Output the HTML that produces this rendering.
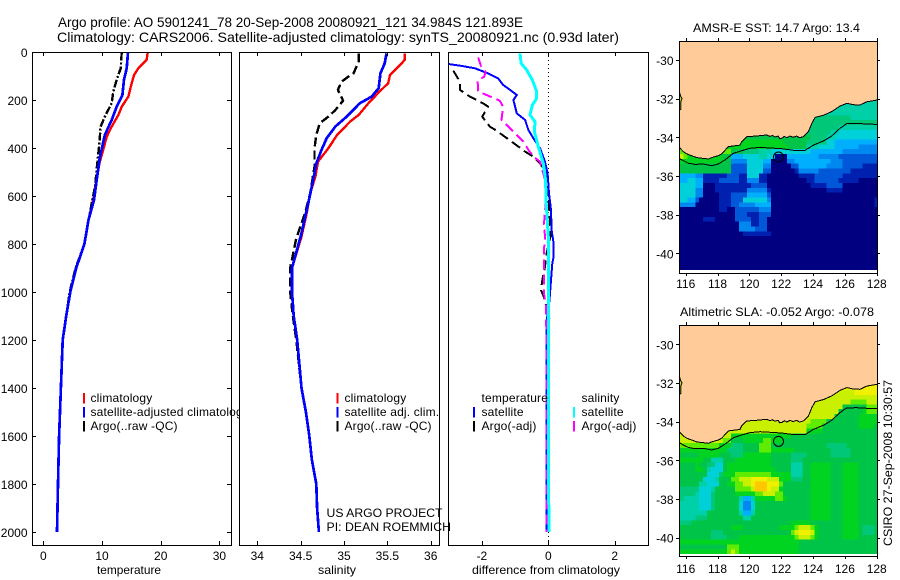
<!DOCTYPE html>
<html>
<head>
<meta charset="utf-8">
<title>Argo profile</title>
<style>
html,body{margin:0;padding:0;background:#fff;}
svg{display:block;}
text{font-family:"Liberation Sans",sans-serif;font-size:12px;fill:#000;}
</style>
</head>
<body>
<svg id="chart" width="900" height="580" viewBox="0 0 900 580" xmlns="http://www.w3.org/2000/svg">
<rect width="900" height="580" fill="#fff"/>
<text x="58" y="27" style="font-size:14px" textLength="465" lengthAdjust="spacingAndGlyphs">Argo profile: AO 5901241_78 20-Sep-2008 20080921_121 34.984S 121.893E</text>
<text x="57" y="42" style="font-size:14px" textLength="562" lengthAdjust="spacingAndGlyphs">Climatology: CARS2006. Satellite-adjusted climatology: synTS_20080921.nc (0.93d later)</text>
<g id="panels"></g>
<g id="overlay">
<text x="326.5" y="517" textLength="116" lengthAdjust="spacingAndGlyphs">US ARGO PROJECT</text>
<text x="326.5" y="531" textLength="124.5" lengthAdjust="spacingAndGlyphs">PI: DEAN ROEMMICH</text>
<text transform="translate(892 546) rotate(-90)" textLength="166" lengthAdjust="spacingAndGlyphs">CSIRO 27-Sep-2008 10:30:57</text>
</g>
</svg>
<script>
// ---------- profile data ----------
const depthTicks = [0,200,400,600,800,1000,1200,1400,1600,1800,2000];
const tempTicks = [0,10,20,30];
const salTicks = [34,34.5,35,35.5,36];
const salTickLabels = ['34','34.5','35','35.5','36'];
const diffTicks = [-2,0,2];
const lonTicks = [116,118,120,122,124,126,128];
const latTicks = [-30,-32,-34,-36,-38,-40];

const tempClimDepth = [2,33,68,96,144,186,228,262,311,353,408,464,600,700,800,900,1000,1100,1200,1400,1600,1800,2000];
const tempClimValue = [17.78,17.6,16.2,15.45,14.9,14.5,13.35,12.8,11.65,10.8,10.2,9.55,8.6,7.7,7.0,5.6,4.6,3.9,3.3,3.0,2.7,2.5,2.33];
const tempSatDepth = [2,68,116,179,228,283,345,436,533,617,700,800,900,1000,1100,1200,1400,1600,1800,2000];
const tempSatValue = [14.43,14.2,13.75,13.47,12.5,11.65,10.5,9.66,9.1,8.64,7.7,7.0,5.6,4.6,3.9,3.3,3.0,2.7,2.5,2.33];
const tempArgoDepth = [2,68,116,165,213,269,311,380,464,561,700,800,900,1000,1100,1200,1400,1600,1800,2000];
const tempArgoValue = [13.35,13.18,12.5,11.93,11.65,10.5,9.77,9.55,9.2,8.8,7.7,7.0,5.5,4.5,3.9,3.3,3.0,2.7,2.5,2.33];

const salClimDepth = [6,33,61,96,130,165,214,262,290,346,401,457,519,589,672,769,900,1000,1100,1200,1400,1500,1600,1700,1800,1900,2000];
const salClimValue = [35.70,35.70,35.63,35.53,35.51,35.41,35.28,35.17,35.07,34.92,34.82,34.70,34.67,34.61,34.57,34.51,34.40,34.40,34.42,34.46,34.51,34.56,34.60,34.63,34.68,34.69,34.71];
const salSatDepth = [6,47,89,151,186,214,248,276,311,359,408,464,505,575,658,755,900,1000,1100,1200,1400,1500,1600,1700,1800,1900,2000];
const salSatValue = [35.49,35.47,35.42,35.40,35.32,35.18,35.09,35.01,34.90,34.80,34.74,34.68,34.66,34.62,34.57,34.51,34.40,34.40,34.42,34.46,34.51,34.56,34.60,34.63,34.68,34.69,34.71];
const salArgoDepth = [6,40,89,105,124,158,203,242,269,297,346,401,478,589,672,776,900,1000,1100,1200,1400,1500,1600,1700,1800];
const salArgoValue = [35.17,35.17,35.11,35.04,34.97,34.93,34.99,34.90,34.82,34.72,34.68,34.66,34.66,34.61,34.55,34.45,34.38,34.38,34.41,34.45,34.51,34.56,34.60,34.63,34.68];

const diffTempSatDepth = [50,58,68,89,110,137,158,179,200,256,283,325,360,401,457,505,589,658,742,797,853,881,950,1006,1041,1131,2000];
const diffTempSatValue = [-3.01,-2.61,-2.21,-1.81,-1.51,-1.36,-1.15,-0.95,-1.05,-0.95,-0.70,-0.60,-0.45,-0.25,-0.10,-0.02,0.02,0.08,0.10,0.16,0.16,0.12,0.08,0.05,0.03,-0.06,-0.06];
const diffSalSatDepth = [6,47,75,117,165,193,221,262,290,332,394,464,533,617,769,2000];
const diffSalSatValue = [-0.85,-0.82,-0.65,-0.48,-0.35,-0.35,-0.48,-0.55,-0.40,-0.42,-0.30,-0.15,-0.08,-0.07,0.0,0.015];
const diffTempArgoDepth = [78,124,158,186,214,228,269,311,328,353,394,415,436,464,505,644,728,770,839,895,950,992,1019,1110];
const diffTempArgoValue = [-2.86,-2.66,-2.66,-2.36,-1.96,-1.81,-1.99,-1.76,-1.56,-1.31,-0.90,-0.70,-0.45,-0.25,-0.05,0.02,0.06,0.06,-0.05,-0.10,-0.18,-0.22,-0.14,0.06];
const diffSalArgoDepth = [22,58,82,103,119,165,179,203,228,283,318,373,408,436,457,533,617,714,769,825,895,950,1006,1061,1158,2000];
const diffSalArgoValue = [-2.11,-2.03,-1.89,-1.93,-2.13,-2.11,-1.86,-1.46,-1.36,-1.41,-1.15,-0.75,-0.60,-0.45,-0.25,-0.10,-0.07,-0.13,-0.10,-0.13,-0.13,-0.13,-0.13,-0.07,-0.06,-0.06];

// ---------- map data ----------
const heatPalette = ['#000080','#0020b0','#0058d8','#0088f0','#00b0ff','#00d0d8','#00d0a8','#00c878','#00c448','#00d420','#60ec00','#c8f000','#f0f000','#ffc800'];
const coastLon = [115.6,115.85,116.06,116.38,116.69,117.11,117.42,117.6,117.84,118.05,118.26,118.68,118.99,119.41,119.52,119.83,120.46,121.09,121.3,121.45,121.6,121.82,121.9,122.03,122.2,122.35,122.55,122.75,122.97,123.15,123.39,123.71,123.92,124.13,124.65,125.17,125.7,126.12,126.53,126.95,127.37,128.04];
const coastLat = [-34.52,-34.74,-34.86,-34.95,-35.05,-35.09,-35.12,-35.06,-35.0,-34.95,-34.86,-34.48,-34.45,-34.4,-34.22,-33.97,-33.93,-33.88,-33.95,-33.9,-33.98,-33.93,-34.06,-34.05,-33.95,-34.02,-33.93,-34.0,-33.93,-34.02,-33.97,-33.71,-33.28,-32.97,-32.86,-32.67,-32.38,-32.24,-32.31,-32.33,-32.16,-32.07];
const shelfLon = [115.6,115.85,116.17,116.59,117.11,117.63,118.05,118.47,118.99,119.52,120.04,120.67,121.3,122.03,122.76,123.5,124.02,124.65,125.17,125.7,126.12,126.74,127.37,128.04];
const shelfLat = [-35.09,-35.21,-35.34,-35.4,-35.38,-35.47,-35.38,-35.17,-34.83,-34.69,-34.57,-34.52,-34.55,-34.59,-34.67,-34.67,-34.4,-34.19,-33.93,-33.53,-33.29,-33.28,-33.31,-33.33];
const islandLon = [115.6,115.69,115.77,115.69,115.69,115.6];
const islandLat = [-31.64,-31.9,-31.98,-32.16,-32.55,-32.59];
const markerLon = [121.83];
const markerLat = [-35.02];

const sstRows = [
[6,6,6,6,6,6,6,6,6,6,6,6,6,6,6,6,6,6,6,6,6,6,6,6,6,6,6,6,6,6,6,6,6,6,6,6,6,6,6,6,6,6,6,6,6,6,6,6,6,6],
[6,6,6,6,6,6,6,6,6,6,6,6,6,6,6,6,6,6,6,6,6,6,6,6,6,6,6,6,6,6,6,6,6,6,6,6,6,6,6,6,6,6,6,6,6,6,6,6,6,6],
[6,6,6,6,6,6,6,6,6,6,6,6,6,6,6,6,6,6,6,6,6,6,6,6,6,6,6,6,6,6,6,6,6,6,6,6,6,6,6,6,6,6,6,6,6,6,6,6,6,6],
[6,6,6,6,6,6,6,6,6,6,6,6,6,6,6,6,6,6,6,6,6,6,6,6,6,6,6,6,6,6,6,6,6,6,6,6,6,6,6,6,6,6,6,6,6,6,6,6,6,6],
[7,7,7,7,7,7,7,7,7,7,7,7,7,7,7,7,7,7,7,7,7,7,7,7,7,7,7,7,7,7,7,7,7,7,7,7,7,7,7,7,7,7,7,6,6,6,6,6,6,6],
[7,7,7,7,7,7,7,7,7,7,7,7,7,7,7,7,7,7,7,7,7,7,7,7,7,7,7,7,7,7,7,7,7,7,7,7,7,7,7,7,7,7,7,7,7,7,7,7,7,7],
[7,7,7,7,7,7,7,7,7,7,7,7,7,7,7,7,7,7,7,7,7,7,7,7,7,7,7,7,7,7,7,7,7,7,7,7,7,7,7,7,6,6,6,6,6,6,6,6,6,6],
[7,7,7,7,7,7,7,7,7,7,7,7,7,7,7,7,7,7,7,7,7,7,7,7,7,7,7,7,7,7,7,7,7,7,7,7,7,7,6,6,5,5,5,5,5,5,5,5,5,5],
[8,8,8,8,8,8,8,8,8,8,8,8,8,8,8,8,8,8,8,8,8,8,8,8,8,8,8,8,8,8,8,8,8,7,7,7,7,6,6,5,5,5,5,5,5,5,5,5,5,5],
[9,9,9,9,9,9,9,9,9,9,9,9,9,9,9,9,9,9,9,9,9,9,9,9,9,9,8,8,8,8,8,8,7,7,7,7,7,5,5,4,4,4,4,4,4,4,4,4,4,4],
[9,9,9,9,9,9,9,9,9,9,9,9,9,9,9,9,9,9,9,9,9,9,9,9,9,9,9,8,8,8,8,8,6,6,6,5,5,5,5,4,4,4,4,4,4,3,3,3,3,3],
[10,10,10,10,10,10,10,10,10,10,10,10,10,8,8,8,7,7,7,7,6,6,6,5,5,5,5,5,5,5,5,5,5,4,4,4,4,4,4,4,4,3,3,3,3,3,3,3,3,3],
[11,10,9,9,9,9,9,9,9,9,9,8,8,4,4,4,5,5,5,5,6,6,5,5,0,0,0,4,4,4,4,4,4,4,4,3,3,3,3,3,2,2,2,2,2,2,2,2,2,2],
[9,9,9,9,9,9,9,9,9,9,9,8,8,3,3,3,3,5,5,5,5,4,4,0,0,0,0,3,3,4,4,4,4,4,4,4,4,4,3,3,3,2,2,2,2,2,2,2,2,2],
[8,8,8,8,8,8,8,8,8,8,8,8,8,2,2,2,2,5,5,5,5,3,3,0,0,0,0,0,2,2,4,4,4,4,4,4,4,3,3,3,3,2,2,2,2,2,1,1,1,1],
[8,8,8,8,8,8,8,8,8,8,8,8,8,2,2,2,2,5,5,5,5,2,2,0,0,0,0,0,0,1,3,3,3,3,3,2,2,2,2,2,2,2,2,1,1,1,1,1,1,1],
[4,4,4,4,3,3,1,1,1,1,1,1,2,2,2,1,1,5,5,5,1,1,0,0,0,0,0,0,0,0,1,1,1,1,2,2,2,2,2,2,2,1,1,1,1,1,1,1,1,1],
[4,4,5,5,4,4,1,1,1,1,2,2,2,2,2,1,1,3,3,3,1,1,0,0,0,0,0,0,0,0,0,0,1,1,2,2,2,2,2,2,1,1,1,1,1,0,0,0,0,0],
[5,5,5,5,4,4,0,0,0,1,1,1,1,1,1,1,1,1,2,2,2,2,0,0,0,0,0,0,0,0,0,0,0,1,1,1,1,2,2,2,2,0,0,0,0,0,0,0,0,0],
[5,5,5,5,3,3,0,0,0,1,1,1,1,1,1,1,1,3,3,3,3,3,1,0,0,0,0,0,0,0,0,0,0,0,0,0,0,1,1,1,1,0,0,0,0,0,0,0,0,0],
[5,5,5,5,3,3,0,0,0,0,1,1,1,2,2,2,2,4,4,4,4,4,2,0,0,0,0,0,0,0,0,0,0,0,0,0,0,0,0,0,0,0,0,0,0,0,0,0,0,0],
[5,5,4,4,2,0,0,0,0,0,1,1,1,2,2,2,5,5,5,5,5,5,3,0,0,0,0,0,0,0,0,0,0,0,0,0,0,0,0,0,0,0,0,0,0,0,0,0,0,1],
[3,3,3,3,0,0,0,0,0,0,1,1,1,2,2,3,3,3,3,4,4,4,4,0,0,0,0,0,0,0,0,0,0,0,0,0,0,0,0,0,0,0,0,0,0,0,0,0,0,1],
[0,0,0,0,0,0,0,0,0,0,1,1,0,0,2,2,2,2,2,2,3,3,3,0,0,0,0,0,0,0,0,0,0,0,0,0,0,0,0,0,0,0,0,0,0,0,0,0,0,0],
[0,0,0,0,0,0,0,0,0,0,0,0,0,0,2,2,2,1,1,1,2,2,2,0,0,0,0,0,0,0,0,0,0,0,0,0,0,0,0,0,0,0,0,0,0,0,0,0,0,0],
[0,0,0,0,0,0,1,1,1,0,0,0,0,0,2,2,2,2,1,1,2,2,0,0,0,0,0,0,0,0,0,0,0,0,0,0,0,0,0,0,0,0,0,0,0,0,0,0,0,0],
[0,0,0,0,0,0,0,0,0,0,0,0,0,0,0,3,3,3,1,1,2,2,0,0,0,0,0,0,0,0,0,0,0,0,0,0,0,0,0,0,0,0,0,0,0,0,0,0,0,0],
[0,0,0,0,0,0,0,0,0,0,0,0,0,0,0,3,3,3,3,2,2,2,0,0,0,0,0,0,0,0,0,0,0,0,0,0,0,0,0,0,0,0,0,0,0,0,0,0,0,0],
[0,0,0,0,0,0,0,0,0,0,0,0,0,0,0,0,1,1,1,1,1,1,1,0,0,0,0,0,0,0,0,0,0,0,0,0,0,0,0,0,0,0,0,0,0,0,0,0,0,0],
[0,0,0,0,0,0,0,0,0,0,0,0,0,0,0,0,0,0,0,0,0,0,0,0,0,0,0,0,0,0,0,0,0,0,0,0,0,0,0,0,0,0,0,0,0,0,0,0,0,0],
[0,0,0,0,0,0,0,0,0,0,0,0,0,0,0,0,0,0,0,0,0,0,0,0,0,0,0,0,0,0,0,0,0,0,0,0,0,0,0,0,0,0,0,0,0,0,0,0,0,0],
[0,0,0,0,0,0,0,0,0,0,0,0,0,0,0,0,0,0,0,0,0,0,0,0,0,0,0,0,0,0,0,0,0,0,0,0,0,0,0,0,0,0,0,0,0,0,0,0,0,0],
[0,0,0,0,0,0,0,0,0,0,0,0,0,0,0,0,0,0,0,0,0,0,0,0,0,0,0,0,0,0,0,0,0,0,0,0,0,0,0,0,0,0,0,0,0,0,0,0,0,0],
[0,0,0,0,0,0,0,0,0,0,0,0,0,0,0,0,0,0,0,0,0,0,0,0,0,0,0,0,0,0,0,0,0,0,0,0,0,0,0,0,0,0,0,0,0,0,0,0,0,0],
[0,0,0,0,0,0,0,0,0,0,0,0,0,0,0,0,0,0,0,0,0,0,0,0,0,0,0,0,0,0,0,0,0,0,0,0,0,0,0,0,0,0,0,0,0,0,0,0,0,0],
[0,0,0,0,0,0,0,0,0,0,0,0,0,0,0,0,0,0,0,0,0,0,0,0,0,0,0,0,0,0,0,0,0,0,0,0,0,0,0,0,0,0,0,0,0,0,0,0,0,0]
];

const slaRows = [
[12,12,12,12,12,12,12,12,12,12,12,12,12,12,12,12,12,12,12,12,12,12,12,12,12,12,12,12,12,12,12,12,12,12,12,12,12,12,12,12,12,12,12,12,12,12,12,12,12,12],
[11,11,11,11,11,11,11,11,11,11,11,11,11,11,11,11,11,11,11,11,11,11,11,11,11,11,11,11,11,11,11,11,11,11,11,11,11,11,11,11,12,12,12,12,12,12,12,12,12,12],
[11,11,11,11,11,11,11,11,11,11,11,11,11,11,11,11,11,11,11,11,11,11,11,11,11,11,11,11,11,11,11,11,11,11,11,11,11,11,11,11,11,11,11,11,12,12,12,12,12,12],
[11,11,11,11,11,11,11,11,11,11,11,11,11,11,11,11,11,11,11,11,11,11,11,11,11,11,11,11,11,11,11,11,11,11,11,11,11,11,11,11,11,11,11,11,11,11,11,11,11,11],
[11,11,11,11,11,11,11,11,11,11,11,11,11,11,11,11,11,11,11,11,11,11,11,11,11,11,11,11,11,11,11,11,11,11,11,11,11,11,11,11,11,11,11,10,10,10,10,11,11,11],
[11,11,11,11,11,11,11,11,11,11,11,11,11,11,11,11,11,11,11,11,11,11,11,11,11,11,11,11,11,11,11,11,11,11,11,11,11,11,11,11,11,8,8,8,8,8,8,10,10,10],
[11,11,11,11,11,11,11,11,11,11,11,11,11,11,11,11,11,11,11,11,11,11,11,11,11,11,11,11,11,11,11,11,11,11,11,11,11,11,11,11,8,8,8,8,8,8,9,10,10,10],
[11,11,11,11,11,11,11,11,11,11,11,11,11,11,11,11,11,11,11,11,11,11,11,11,11,11,11,11,11,11,11,11,11,11,11,11,11,11,11,8,8,8,8,8,8,9,9,9,9,9],
[11,11,11,11,11,11,11,11,11,11,11,11,11,11,11,11,11,11,11,11,11,11,11,11,11,11,11,11,11,11,11,11,11,10,10,10,10,8,8,8,8,8,8,8,8,9,9,9,9,9],
[11,11,11,11,11,11,11,11,11,11,11,11,11,11,11,11,11,11,11,11,11,11,11,11,11,11,11,11,11,11,11,11,10,10,10,10,8,8,8,8,8,8,8,8,8,9,9,9,9,8],
[11,11,11,11,11,11,11,11,11,11,11,11,11,11,11,11,11,11,11,11,11,11,11,11,11,11,11,11,11,11,11,11,9,9,9,9,8,8,8,8,8,8,8,8,8,8,8,8,8,8],
[11,11,11,11,11,11,11,11,11,11,11,11,11,9,9,9,9,9,9,9,9,9,9,9,9,9,9,9,8,8,8,8,8,8,8,8,8,8,8,8,8,8,8,8,8,8,8,8,8,8],
[11,11,11,11,11,11,11,11,11,11,11,10,10,8,8,8,9,9,9,9,9,10,10,9,9,9,8,8,8,8,8,8,8,8,8,8,8,8,8,8,8,8,8,8,8,8,8,8,8,8],
[10,10,10,10,10,10,10,10,10,10,9,9,9,7,7,7,8,8,8,8,10,10,10,8,8,8,8,8,8,8,8,8,8,8,8,8,8,7,7,7,7,7,8,8,8,8,8,8,8,8],
[9,9,9,9,9,9,9,9,9,9,9,9,7,7,7,7,8,8,8,8,10,10,10,9,9,9,9,9,9,8,8,8,8,8,8,8,8,8,7,7,7,7,7,8,8,8,8,8,8,8],
[8,8,8,8,8,9,9,9,9,9,8,8,8,7,7,7,9,9,9,9,9,9,9,8,8,8,8,8,7,7,7,7,8,8,8,8,8,8,7,7,7,7,7,8,8,8,8,8,8,8],
[9,9,9,9,9,9,8,8,6,6,6,8,8,8,9,9,9,9,9,9,9,9,9,8,8,8,8,8,7,7,7,8,8,8,8,8,8,8,8,8,8,8,8,8,8,8,8,8,8,8],
[8,8,8,8,9,8,8,7,7,5,5,8,9,9,9,9,9,9,9,9,9,9,9,8,8,8,8,8,6,6,6,8,8,9,9,9,9,9,8,8,8,9,9,9,9,8,8,8,8,8],
[8,8,8,8,9,9,8,6,5,5,5,8,9,9,9,9,9,9,9,9,9,9,9,9,8,8,8,8,6,6,6,8,8,9,9,9,9,9,8,8,8,9,9,9,9,8,8,8,8,8],
[8,8,8,8,8,8,8,5,5,5,7,9,9,9,10,10,10,10,10,10,10,10,10,9,9,9,9,9,6,6,6,8,8,9,9,9,9,9,8,8,8,9,9,9,9,8,8,8,8,8],
[8,8,8,8,8,8,5,5,5,6,8,8,8,10,10,11,11,11,12,12,12,12,11,11,11,9,9,9,7,7,7,8,8,9,9,9,9,9,8,8,8,9,9,9,9,8,8,8,8,8],
[8,8,8,8,8,6,6,5,5,5,8,8,9,9,10,10,11,11,12,13,13,13,12,12,12,10,8,8,8,8,8,8,8,9,9,9,9,9,8,8,8,9,9,9,9,8,8,8,8,8],
[7,7,7,7,7,5,5,5,6,8,8,8,8,8,10,10,10,10,11,13,13,13,12,11,11,9,8,8,8,8,8,8,8,9,9,9,9,9,8,8,8,9,9,9,9,8,8,8,8,8],
[7,7,7,7,6,5,5,5,7,8,8,8,8,8,9,9,9,9,9,10,10,11,11,11,10,10,8,8,8,8,8,8,8,9,9,9,9,9,8,8,8,9,9,9,9,8,8,8,8,8],
[7,6,6,6,6,5,5,5,7,8,8,8,8,8,8,6,4,4,6,9,9,9,9,9,10,10,9,8,8,8,8,8,8,9,9,9,9,9,8,8,8,9,9,9,9,8,8,8,8,8],
[6,6,6,6,6,5,5,5,7,8,8,8,8,8,8,5,3,3,5,8,8,8,8,8,8,8,8,8,8,8,8,8,8,9,9,9,9,9,8,8,8,9,9,9,9,8,8,8,8,8],
[6,6,6,6,6,5,5,5,7,8,8,8,8,8,8,5,3,3,5,8,8,8,8,8,8,8,8,8,8,8,8,8,8,9,9,9,9,9,8,8,8,9,9,9,9,8,8,8,8,8],
[6,6,6,6,6,6,6,8,8,8,8,8,8,8,8,6,4,4,6,8,8,8,8,8,8,8,8,8,8,8,8,8,8,9,9,9,9,9,8,8,8,9,9,9,9,8,8,8,8,8],
[6,6,6,6,7,7,7,8,8,8,8,8,8,8,8,8,6,6,8,8,8,8,8,8,8,8,8,8,8,8,8,8,8,9,9,9,9,9,8,8,8,9,9,9,9,8,8,8,8,8],
[7,7,7,8,8,8,8,8,8,8,8,8,8,8,8,8,8,8,8,8,8,8,8,8,8,8,8,8,9,9,9,9,9,8,8,8,8,8,8,8,8,9,9,9,9,8,8,8,8,8],
[8,8,8,8,8,8,8,8,8,8,8,8,8,9,9,9,8,8,8,8,8,8,8,8,8,9,9,9,9,10,11,11,11,10,9,8,8,8,8,8,8,9,9,9,9,8,7,7,7,8],
[8,8,8,8,8,8,8,8,7,7,7,8,8,8,8,8,8,8,8,8,8,8,8,8,8,8,8,8,10,11,12,12,12,11,9,8,8,8,8,8,8,9,9,9,9,8,7,7,7,8],
[8,8,8,8,8,8,8,8,7,7,7,7,8,8,8,9,9,9,9,9,9,9,9,9,9,9,9,9,9,10,11,11,11,10,9,8,8,8,8,8,8,9,9,9,9,8,8,8,8,8],
[9,9,9,9,9,9,9,9,9,9,9,9,9,9,9,9,9,9,9,9,9,9,9,9,9,9,9,9,9,9,8,8,8,8,8,8,8,8,8,8,8,8,8,8,8,8,8,8,8,8],
[8,8,8,8,8,8,8,8,8,8,8,8,10,10,10,9,9,9,9,9,9,9,9,9,9,9,9,9,9,9,8,8,8,8,8,8,8,8,8,8,8,8,8,8,8,8,8,8,8,8],
[9,9,9,9,9,9,9,9,9,9,9,9,10,11,10,9,9,9,9,9,9,9,9,9,9,9,9,9,9,9,8,8,8,8,8,8,8,8,8,8,8,8,8,8,8,8,8,8,8,8]
];

// ---------- axis functions ----------
const yDepth = d => 52 + 0.24 * d;
const xTemp = v => 43.3 + 5.87 * v;
const xSal = v => 257.3 + 86.7 * (v - 34);
const xDiff = v => 548.3 + 33.2 * v;
const NS = 'http://www.w3.org/2000/svg';
const panels = document.getElementById('panels');

function mk(tag, parent, attrs, txt) {
  const el = document.createElementNS(NS, tag);
  for (const k in attrs) el.setAttribute(k, attrs[k]);
  if (txt !== undefined) el.textContent = txt;
  parent.appendChild(el);
  return el;
}
function seg(parent, x1, y1, x2, y2, color, w) {
  const el = mk('line', parent, {x1, y1, x2, y2, stroke: color || '#000', 'stroke-width': w || 1, 'shape-rendering': 'crispEdges'});
  return el;
}

function frame(name, L, T, R, B) {
  const g = mk('g', panels, {});
  
  
  const bg = mk('rect', g, {x: L, y: T, width: R - L, height: B - T, fill: '#fff'});
  
  
  return g;
}
function box(g, name, L, T, R, B) {
  const r = mk('rect', g, {x: L + .5, y: T + .5, width: R - L, height: B - T, fill: 'none', stroke: '#000', 'stroke-width': 1, 'shape-rendering': 'crispEdges'});
  
  
}
function profile(g, name, fx, values, depths, color, w, dash) {
  const pts = values.map((v, i) => fx(v).toFixed(1) + ',' + yDepth(depths[i]).toFixed(1)).join(' ');
  const a = {points: pts, fill: 'none', stroke: color, 'stroke-width': w, 'stroke-linejoin': 'round', 'shape-rendering': 'crispEdges'};
  if (dash) a['stroke-dasharray'] = dash;
  const p = mk('polyline', g, a);
  
  
}
function xAxis(g, name, ticks, labels, fx, T, B, title, titleX, titleLen) {
  ticks.forEach((v, i) => {
    const x = Math.round(fx(v)) + .5;
    const t1 = seg(g, x, B, x, B - 4);
    
    
    const t2 = seg(g, x, T, x, T + 4);
    
    
    const lb = mk('text', g, {x: fx(v), y: 560, 'text-anchor': 'middle'}, labels[i]);
    
    
  });
  const tt = mk('text', g, {x: titleX, y: 574, 'text-anchor': 'middle', textLength: titleLen, lengthAdjust: 'spacingAndGlyphs'}, title);
  
  
}
function legend(g, name, sx, tx, entries) {
  entries.forEach(e => {
    if (e.c) {
      const s = seg(g, sx, e.y - 9, sx, e.y + 1.5, e.c, 2);
      
      
    }
    const t = mk('text', g, {x: tx, y: e.y, style: 'letter-spacing:.17px'}, e.t);
    
    
  });
}
const R1 = 402, R2 = 416, R3 = 430;

// ---------- temperature panel ----------
const g1 = frame('temperature-panel', 32, 52, 231, 545);
profile(g1, 'temperature-climatology-line', xTemp, tempClimValue, tempClimDepth, '#f00', 2.4);
profile(g1, 'temperature-argo-line', xTemp, tempArgoValue, tempArgoDepth, '#000', 2.4, '8 2 2 2');
profile(g1, 'temperature-satellite-line', xTemp, tempSatValue, tempSatDepth, '#00f', 2.7);
depthTicks.forEach(d => {
  const y = Math.round(yDepth(d)) + .5;
  const a = seg(g1, 32, y, 36, y);
  
  
  const b = seg(g1, 227, y, 231, y);
  
  
  const t = mk('text', g1, {x: 27.5, y: yDepth(d) + 5, 'text-anchor': 'end'}, String(d));
  
  
});
box(g1, 'temperature-panel', 32, 52, 231, 545);
xAxis(g1, 'temperature-axis', tempTicks, tempTicks.map(String), xTemp, 52, 545, 'temperature', 129, 64);
legend(g1, 'temperature-legend', 84, 90.5, [
  {y: R1, c: '#f00', t: 'climatology'},
  {y: R2, c: '#00f', t: 'satellite-adjusted climatology'},
  {y: R3, c: '#000', t: 'Argo(..raw -QC)'}
]);

// ---------- salinity panel ----------
const g2 = frame('salinity-panel', 239, 52, 439, 545);
profile(g2, 'salinity-climatology-line', xSal, salClimValue, salClimDepth, '#f00', 2.4);
profile(g2, 'salinity-argo-line', xSal, salArgoValue, salArgoDepth, '#000', 2.4, '9 4');
profile(g2, 'salinity-satellite-line', xSal, salSatValue, salSatDepth, '#00f', 2.7);
box(g2, 'salinity-panel', 239, 52, 439, 545);
xAxis(g2, 'salinity-axis', salTicks, salTickLabels, xSal, 52, 545, 'salinity', 337, 38);
legend(g2, 'salinity-legend', 337.5, 344.5, [
  {y: R1, c: '#f00', t: 'climatology'},
  {y: R2, c: '#00f', t: 'satellite adj. clim.'},
  {y: R3, c: '#000', t: 'Argo(..raw -QC)'}
]);

// ---------- difference panel ----------
const g3 = frame('difference-panel', 448, 52, 648, 545);
const zero = mk('line', g3, {x1: 548.5, y1: 52, x2: 548.5, y2: 545, stroke: '#000', 'stroke-width': 1, 'stroke-dasharray': '1 3', 'shape-rendering': 'crispEdges'});


profile(g3, 'difference-temperature-argo-line', xDiff, diffTempArgoValue, diffTempArgoDepth, '#000', 2, '10 5');
profile(g3, 'difference-temperature-satellite-line', xDiff, diffTempSatValue, diffTempSatDepth, '#00f', 2);
profile(g3, 'difference-salinity-argo-line', xDiff, diffSalArgoValue, diffSalArgoDepth, '#f0f', 2, '10 5');
profile(g3, 'difference-salinity-satellite-line', xDiff, diffSalSatValue, diffSalSatDepth, '#0ff', 3);
box(g3, 'difference-panel', 448, 52, 648, 545);
xAxis(g3, 'difference-axis', diffTicks, diffTicks.map(String), xDiff, 52, 545, 'difference from climatology', 546, 148);
legend(g3, 'difference-temperature-legend', 474, 481.5, [
  {y: R1, t: 'temperature'},
  {y: R2, c: '#00f', t: 'satellite'},
  {y: R3, c: '#000', t: 'Argo(-adj)'}
]);
legend(g3, 'difference-salinity-legend', 574, 581.5, [
  {y: R1, t: 'salinity'},
  {y: R2, c: '#0ff', t: 'satellite'},
  {y: R3, c: '#f0f', t: 'Argo(-adj)'}
]);

// ---------- map panels ----------
function drawMap(name, rows, T, B, lat30, titleText, titleX, titleY, labelY, titleLen) {
  const L = 679, R = 877;
  const xLon = v => 685.7 + 15.917 * (v - 116);
  const yLat = v => lat30 + 19.33 * (-30 - v);
  const g = mk('g', panels, {});
  
  
  const land = mk('rect', g, {x: L, y: T, width: R - L, height: B - T, fill: '#ffcc99', 'shape-rendering': 'crispEdges'});
  
  
  const landPts = coastLon.map((v, i) => xLon(v).toFixed(1) + ',' + yLat(coastLat[i]).toFixed(1));
  const clip = mk('clipPath', g, {id: name + '-ocean-clip'});
  
  
  const clipShape = mk('polygon', clip, {points: landPts.join(' ') + ' ' + R + ',' + B + ' ' + L + ',' + B});
  
  
  const ocean = mk('g', g, {'clip-path': 'url(#' + name + '-ocean-clip)'});
  
  
  const cellW = 0.25, cellH = 0.25, firstLon = 115.6, firstLat = -31.86;
  rows.forEach((row, r) => row.forEach((v, c) => {
    const x0 = xLon(firstLon + c * cellW), x1 = xLon(firstLon + (c + 1) * cellW);
    const y0 = yLat(firstLat - r * cellH), y1 = yLat(firstLat - (r + 1) * cellH);
    const cell = mk('rect', ocean, {x: x0.toFixed(1), y: y0.toFixed(1), width: (x1 - x0 + .4).toFixed(1), height: (y1 - y0 + .4).toFixed(1), fill: heatPalette[v], 'shape-rendering': 'crispEdges'});
    
    
  }));
  const coast = mk('polyline', g, {points: landPts.join(' '), fill: 'none', stroke: '#000', 'stroke-width': 1, 'shape-rendering': 'crispEdges'});
  
  
  const shelf = mk('polyline', g, {points: shelfLon.map((v, i) => xLon(v).toFixed(1) + ',' + yLat(shelfLat[i]).toFixed(1)).join(' '), fill: 'none', stroke: '#000', 'stroke-width': 1, 'shape-rendering': 'crispEdges'});
  
  
  const isle = mk('polyline', g, {points: islandLon.map((v, i) => xLon(v).toFixed(1) + ',' + yLat(islandLat[i]).toFixed(1)).join(' '), fill: '#c8f000', stroke: '#000', 'stroke-width': 1});
  
  
  const mark = mk('circle', g, {cx: xLon(markerLon[0]), cy: yLat(markerLat[0]), r: 5, fill: 'none', stroke: '#000', 'stroke-width': 1});
  
  
  const white = mk('rect', g, {x: L, y: yLat(-40.86).toFixed(1), width: R - L, height: (B - yLat(-40.86)).toFixed(1), fill: '#fff', 'shape-rendering': 'crispEdges'});
  
  
  box(g, name, L, T, R, B);
  lonTicks.forEach(v => {
    const x = Math.round(xLon(v)) + .5;
    const a = seg(g, x, B, x, B + 3);
    
    
    const b = seg(g, x, T, x, T - 3);
    
    
    const t = mk('text', g, {x: xLon(v), y: labelY, 'text-anchor': 'middle'}, String(v));
    
    
  });
  latTicks.forEach(v => {
    const y = Math.round(yLat(v)) + .5;
    const a = seg(g, L - 3, y, L, y);
    
    
    const b = seg(g, R, y, R + 3, y);
    
    
    const t = mk('text', g, {x: 673.5, y: yLat(v) + 5, 'text-anchor': 'end'}, String(v));
    
    
  });
  const tt = mk('text', g, {x: titleX, y: titleY, textLength: titleLen, lengthAdjust: 'spacingAndGlyphs'}, titleText);
  
  
}
drawMap('sst-map', sstRows, 41, 273, 60, 'AMSR-E SST: 14.7 Argo: 13.4', 693, 32, 288, 167);
drawMap('sla-map', slaRows, 325, 556, 344.3, 'Altimetric SLA: -0.052 Argo: -0.078', 680, 316, 573, 194);
</script>
</body>
</html>
